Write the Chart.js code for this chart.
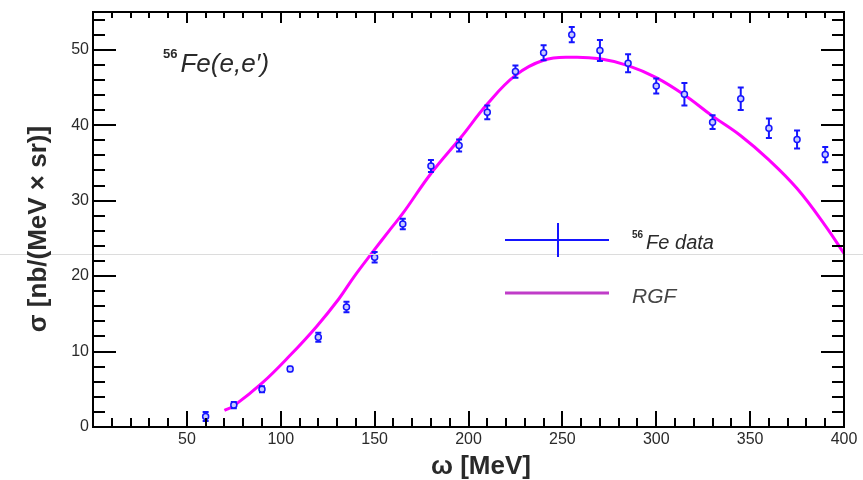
<!DOCTYPE html>
<html>
<head>
<meta charset="utf-8">
<script src="https://cdn.jsdelivr.net/npm/chart.js@4.4.1/dist/chart.umd.min.js"></script>
<style>
  body { margin: 0; background: #ffffff; }
  #wrap { width: 863px; height: 480px; }
</style>
</head>
<body>
<div id="wrap"><canvas id="chart" width="863" height="480"></canvas></div>
<script>
// 56Fe(e,e') data points
const omegaData = [60, 75, 90, 105, 120, 135, 150, 165, 180, 195, 210, 225, 240, 255, 270, 285, 300, 315, 330, 345, 360, 375, 390];
const sigmaData = [1.4, 2.9, 5.0, 7.7, 11.9, 15.9, 22.5, 26.9, 34.6, 37.3, 41.7, 47.1, 49.6, 52.0, 49.9, 48.2, 45.2, 44.1, 40.4, 43.5, 39.6, 38.1, 36.1];
const sigmaErr  = [0.6, 0.4, 0.4, 0.3, 0.6, 0.7, 0.7, 0.7, 0.8, 0.8, 0.9, 0.8, 1.0, 1.0, 1.4, 1.2, 1.0, 1.5, 0.9, 1.5, 1.3, 1.2, 1.0];

// RGF calculation
const omegaRGF = [70, 75, 90, 105, 119, 131, 139, 149, 158, 165, 180, 196, 210, 225, 240, 255, 270, 285, 300, 315, 330, 345, 360, 375, 390, 400];
const sigmaRGF = [2.2, 2.8, 5.8, 9.5, 13.3, 17.0, 19.9, 23.2, 26.1, 28.3, 33.6, 38.4, 42.8, 46.6, 48.6, 49.0, 48.8, 47.9, 46.3, 44.0, 41.2, 38.6, 35.4, 31.6, 26.7, 23.0];

const xTickLabels = [50, 100, 150, 200, 250, 300, 350, 400];
const yTickLabels = [0, 10, 20, 30, 40, 50];

const dataBlue = '#1515ff';
const rgfMagenta = '#ff00ff';
const textColor = '#2a2a2a';

// text with a small bold superscript in front (56Fe)
function drawSupText(ctx, sup, text, x, baseline, size, supSize, color) {
    ctx.fillStyle = color;
    ctx.textAlign = 'left';
    ctx.textBaseline = 'alphabetic';
    ctx.font = `bold ${supSize}px "Liberation Sans", Arial, sans-serif`;
    ctx.fillText(sup, x, baseline - size * 0.55);
    const w = ctx.measureText(sup).width;
    ctx.font = `italic ${size}px "Liberation Sans", Arial, sans-serif`;
    ctx.fillText(text, x + w + 3, baseline);
}

const rootStyle = {
    id: 'rootStyle',
    beforeDatasetDraw(chart, args) {
        if (args.index !== 0) return;
        const ctx = chart.ctx, x = chart.scales.x, y = chart.scales.y;
        ctx.save();
        ctx.strokeStyle = dataBlue;
        ctx.lineWidth = 2;
        omegaData.forEach((w, i) => {
            const px = x.getPixelForValue(w);
            const top = y.getPixelForValue(sigmaData[i] + sigmaErr[i]);
            const bot = y.getPixelForValue(Math.max(0, sigmaData[i] - sigmaErr[i]));
            ctx.beginPath();
            ctx.moveTo(px, top); ctx.lineTo(px, bot);
            ctx.moveTo(px - 3, top); ctx.lineTo(px + 3, top);
            ctx.moveTo(px - 3, bot); ctx.lineTo(px + 3, bot);
            ctx.stroke();
        });
        ctx.restore();
    },
    afterDraw(chart) {
        const ctx = chart.ctx, x = chart.scales.x, y = chart.scales.y;
        const a = chart.chartArea;
        ctx.save();

        // faint scan line across the picture
        ctx.strokeStyle = '#dcdcdc';
        ctx.lineWidth = 1;
        ctx.beginPath();
        ctx.moveTo(0, 254.5); ctx.lineTo(chart.width, 254.5);
        ctx.stroke();

        // frame
        ctx.strokeStyle = '#000';
        ctx.lineWidth = 2;
        ctx.strokeRect(a.left, a.top, a.right - a.left, a.bottom - a.top);

        // x ticks, bottom and top
        ctx.beginPath();
        for (let v = 0; v <= 400; v += 10) {
            const px = Math.round(x.getPixelForValue(v));
            const major = v % 50 === 0;
            ctx.moveTo(px, a.bottom); ctx.lineTo(px, a.bottom - (major ? 16 : 9));
            ctx.moveTo(px, a.top); ctx.lineTo(px, a.top + (major ? 11 : 6));
        }
        // y ticks, left and right
        for (let v = 0; v <= 54; v += 2) {
            const py = Math.round(y.getPixelForValue(v));
            const major = v % 10 === 0;
            ctx.moveTo(a.left, py); ctx.lineTo(a.left + (major ? 23 : 12), py);
            ctx.moveTo(a.right, py); ctx.lineTo(a.right - (major ? 23 : 12), py);
        }
        ctx.stroke();

        // tick labels
        ctx.fillStyle = textColor;
        ctx.font = '16px "Liberation Sans", Arial, sans-serif';
        ctx.textAlign = 'center';
        ctx.textBaseline = 'top';
        xTickLabels.forEach(v => ctx.fillText(String(v), x.getPixelForValue(v), a.bottom + 5));
        ctx.textAlign = 'right';
        ctx.textBaseline = 'middle';
        yTickLabels.forEach(v => ctx.fillText(String(v), a.left - 4, y.getPixelForValue(v)));

        // axis titles
        ctx.font = 'bold 26px "Liberation Sans", Arial, sans-serif';
        ctx.textAlign = 'center';
        ctx.textBaseline = 'alphabetic';
        ctx.fillText('ω [MeV]', 481, 474);

        ctx.save();
        ctx.translate(46, 229);
        ctx.rotate(-Math.PI / 2);
        ctx.font = 'bold 26px "Liberation Sans", Arial, sans-serif';
        ctx.fillText('σ [nb/(MeV × sr)]', 0, 0);
        ctx.restore();

        // reaction label
        drawSupText(ctx, '56', 'Fe(e,e′)', 163, 72, 26, 13, textColor);

        // legend
        ctx.strokeStyle = dataBlue;
        ctx.lineWidth = 2;
        ctx.beginPath();
        ctx.moveTo(505, 240); ctx.lineTo(609, 240);
        ctx.moveTo(558, 223); ctx.lineTo(558, 257);
        ctx.stroke();
        drawSupText(ctx, '56', 'Fe data', 632, 249, 20, 10, textColor);

        ctx.strokeStyle = '#c03cc8';
        ctx.lineWidth = 3;
        ctx.beginPath();
        ctx.moveTo(505, 293); ctx.lineTo(609, 293);
        ctx.stroke();
        ctx.fillStyle = '#444';
        ctx.font = 'italic 21px "Liberation Sans", Arial, sans-serif';
        ctx.textAlign = 'left';
        ctx.fillText('RGF', 632, 303);

        ctx.restore();
    }
};

const ctx = document.getElementById('chart');

new Chart(ctx, {
    type: 'scatter',
    data: {
        datasets: [
            {
                label: '56Fe data',
                data: omegaData.map((w, i) => ({ x: w, y: sigmaData[i] })),
                pointStyle: 'circle',
                pointRadius: 3,
                pointBorderWidth: 1.5,
                borderColor: dataBlue,
                backgroundColor: '#c8ccff',
                showLine: false
            },
            {
                label: 'RGF',
                data: omegaRGF.map((w, i) => ({ x: w, y: sigmaRGF[i] })),
                showLine: true,
                borderColor: rgfMagenta,
                borderWidth: 3,
                pointRadius: 0,
                tension: 0.4,
                fill: false
            }
        ]
    },
    options: {
        responsive: false,
        animation: false,
        layout: { padding: { left: 93, top: 12, right: 19, bottom: 53 } },
        scales: {
            x: { type: 'linear', min: 0, max: 400, display: false },
            y: { type: 'linear', min: 0, max: 55, display: false }
        },
        plugins: {
            legend: { display: false },
            tooltip: { enabled: false }
        }
    },
    plugins: [rootStyle]
});
</script>
</body>
</html>
